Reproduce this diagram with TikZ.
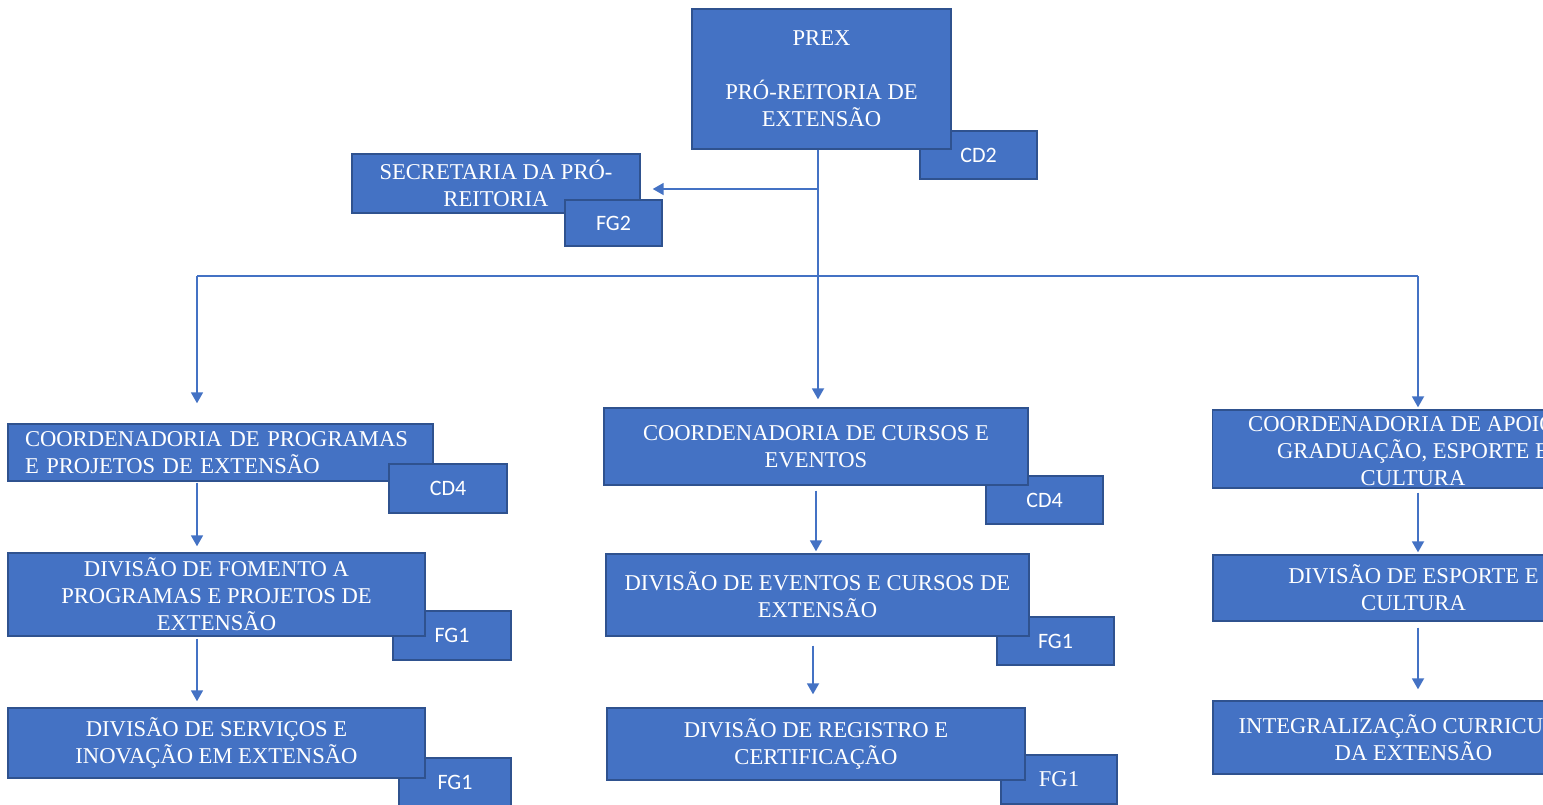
\documentclass[tikz,border=0pt]{standalone}
\usepackage{fontspec}
\setmainfont{Liberation Serif}
\newfontfamily\tagfont{Carlito}
\usetikzlibrary{arrows.meta}

\definecolor{boxfill}{HTML}{4472C4}
\definecolor{boxline}{HTML}{2F528F}
\definecolor{linkblue}{HTML}{4472C4}

\begin{document}
\begin{tikzpicture}[
    x=1pt, y=-1pt,
    every node/.style={font=\fontsize{22.6}{27}\selectfont, text=white},
    unitbox/.style={draw=boxline, fill=boxfill, line width=1.4pt, align=center, inner sep=0pt},
    tagbox/.style={draw=boxline, fill=boxfill, line width=1.4pt, inner sep=0pt, font=\tagfont\fontsize{22}{26}\selectfont},
    link/.style={draw=linkblue, line width=1.8pt, -{Triangle[width=12pt,length=11pt]}},
    plain/.style={draw=linkblue, line width=1.5pt},
]
    \useasboundingbox (0,0) rectangle (1543,804);
    \fill[white] (0,0) rectangle (1543,804);
    \clip (0,0) rectangle (1543,804);

    % top
    \node[tagbox, minimum width=117pt, minimum height=48pt] (cd2) at (978.5,155) {CD2};
    \node[unitbox, minimum width=259pt, minimum height=140pt] (prex) at (821.5,79)
        {PREX\\[27pt]PRÓ-REITORIA DE\\EXTENSÃO};
    \node[unitbox, minimum width=288pt, minimum height=59pt] (sec) at (496,183.5)
        {SECRETARIA DA PRÓ-\\REITORIA};
    \node[tagbox, minimum width=97pt, minimum height=46pt] (fg2) at (613.5,223) {FG2};

    % left column
    \node[unitbox, text width=391pt, align=left, inner xsep=17pt, minimum height=57pt] (cpp) at (220.5,452.5)
        {COORDENADORIA DE PROGRAMAS\\E PROJETOS DE EXTENSÃO};
    \node[tagbox, minimum width=118pt, minimum height=49pt] (cd4a) at (448,488.5) {CD4};
    \node[tagbox, minimum width=118pt, minimum height=49pt] (fg1a) at (452,635.5) {FG1};
    \node[unitbox, minimum width=417pt, minimum height=83pt] (dfp) at (216.5,594.5)
        {DIVISÃO DE FOMENTO A\\PROGRAMAS E PROJETOS DE\\EXTENSÃO};
    \node[tagbox, minimum width=112pt, minimum height=48pt] (fg1b) at (455,782) {FG1};
    \node[unitbox, minimum width=417pt, minimum height=70pt] (dsi) at (216.5,743)
        {DIVISÃO DE SERVIÇOS E\\INOVAÇÃO EM EXTENSÃO};

    % centre column
    \node[tagbox, minimum width=117pt, minimum height=48pt] (cd4b) at (1044.5,500) {CD4};
    \node[unitbox, minimum width=424pt, minimum height=77pt] (cce) at (816,446.5)
        {COORDENADORIA DE CURSOS E\\EVENTOS};
    \node[tagbox, minimum width=117pt, minimum height=48pt] (fg1c) at (1055.5,641) {FG1};
    \node[unitbox, minimum width=423pt, minimum height=82pt] (dec) at (817.5,595)
        {DIVISÃO DE EVENTOS E CURSOS DE\\EXTENSÃO};
    \node[tagbox, minimum width=116pt, minimum height=49pt, font=\fontsize{22.6}{27}\selectfont] (fg1d) at (1059,779.5) {FG1};
    \node[unitbox, minimum width=418pt, minimum height=72pt] (drc) at (816,744)
        {DIVISÃO DE REGISTRO E\\CERTIFICAÇÃO};

    % right column
    \node[unitbox, minimum width=401pt, minimum height=78pt] (cae) at (1413,449)
        {COORDENADORIA DE APOIO À\\GRADUAÇÃO, ESPORTE E\\CULTURA};
    \node[unitbox, minimum width=401pt, minimum height=66pt] (dsc) at (1413.5,588)
        {DIVISÃO DE ESPORTE E\\CULTURA};
    \node[unitbox, minimum width=401pt, minimum height=73pt] (ice) at (1413.5,737.5)
        {INTEGRALIZAÇÃO CURRICULAR\\DA EXTENSÃO};

    % connectors
    \coordinate (trunk) at (818,189);
    \coordinate (bar) at (818,276);
    \coordinate (lcol) at (197,276);
    \coordinate (rcol) at (1418,276);
    \draw[link, shorten >=8pt] (prex.south -| trunk) -- (cce.north -| trunk);
    \draw[link, shorten >=12pt] (trunk) -- (trunk -| sec.east);
    \draw[plain] (lcol) -- (rcol);
    \draw[link, shorten >=20pt] (lcol) -- (cpp.north -| lcol);
    \draw[link, shorten >=2pt] (rcol) -- (cae.north -| rcol);

    \draw[link, shorten <=1pt, shorten >=6pt] (cpp.south -| lcol) -- (dfp.north -| lcol);
    \draw[link, shorten <=2pt, shorten >=6pt] (dfp.south -| lcol) -- (dsi.north -| lcol);
    \draw[link, shorten <=5pt, shorten >=2pt] (cce.south) -- (dec.north -| cce);
    \draw[link, shorten <=9pt, shorten >=13pt] (dec.south -| 813,0) -- (drc.north -| 813,0);
    \draw[link, shorten <=4pt, shorten >=2pt] (cae.south -| rcol) -- (dsc.north -| rcol);
    \draw[link, shorten <=6pt, shorten >=11pt] (dsc.south -| rcol) -- (ice.north -| rcol);
\end{tikzpicture}
\end{document}
